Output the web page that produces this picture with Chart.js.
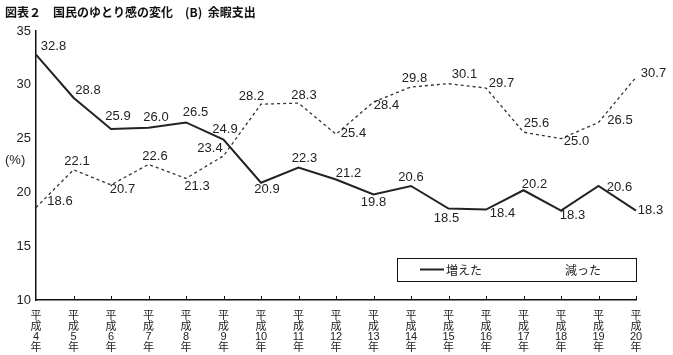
<!DOCTYPE html>
<html><head><meta charset="utf-8">
<script src="https://cdn.jsdelivr.net/npm/chart.js@4.4.0/dist/chart.umd.min.js"></script>
<style>html,body{margin:0;padding:0;background:#fff}#w{width:673px;height:355px}</style>
</head><body><div id="w"><canvas id="c" width="673" height="355"></canvas></div>
<script>
const categories = ['平成4年','平成5年','平成6年','平成7年','平成8年','平成9年','平成10年','平成11年','平成12年','平成13年','平成14年','平成15年','平成16年','平成17年','平成18年','平成19年','平成20年'];
const increased = [32.8,28.8,25.9,26.0,26.5,24.9,20.9,22.3,21.2,19.8,20.6,18.5,18.4,20.2,18.3,20.6,18.3];
const decreased = [18.6,22.1,20.7,22.6,21.3,23.4,28.2,28.3,25.4,28.4,29.8,30.1,29.7,25.6,25.0,26.5,30.7];
const yTicks = [10,15,20,25,30,35];
const seriesNames = ['増えた','減った'];
const titleText = '図表２　国民のゆとり感の変化　(B)  余暇支出';

// label offsets (layout only): [dx, dy] of label centre relative to point
const offInc = [[17.5,-8],[14.5,-7],[7,-12],[7.5,-10],[9.5,-10],[1.5,-10],[6,7],[6,-9],[12.5,-6],[0,8],[0,-9],[-2,10],[16.5,4],[11,-6],[11.5,5],[21,1],[14.5,0]];
const offDec = [[24,-6],[3.5,-8],[11.5,5],[6.5,-8],[11,8],[-13.5,-7],[-9.5,-8],[5.5,-8],[17.5,-1],[13,3],[3.5,-9],[16,-9],[15.5,-5],[13,-9],[15.5,3],[21.5,-2],[17.5,-4]];

const FONT = '"Liberation Sans", Arial, "Noto Sans CJK JP", sans-serif';
const CJK = '"Noto Sans CJK JP", sans-serif';

const decor = {
  id: 'decor',
  afterDatasetsDraw(chart) {
    const ctx = chart.ctx;
    const xs = chart.scales.x, ys = chart.scales.y;
    ctx.save();
    ctx.strokeStyle = '#111'; ctx.lineWidth = 1;
    for (let i = 1; i < categories.length; i++) {
      const x = Math.round(xs.getPixelForValue(i)) + 0.5;
      ctx.beginPath(); ctx.moveTo(x, ys.bottom); ctx.lineTo(x, ys.bottom - 4); ctx.stroke();
    }
    ctx.fillStyle = '#222';
    ctx.font = '13px ' + FONT;
    ctx.textAlign = 'center'; ctx.textBaseline = 'middle';
    const drawLabels = (arr, off) => {
      arr.forEach((v, i) => {
        const x = xs.getPixelForValue(i), y = ys.getPixelForValue(v);
        ctx.fillText(v.toFixed(1), x + off[i][0], y + off[i][1]);
      });
    };
    drawLabels(increased, offInc);
    drawLabels(decreased, offDec);
    ctx.font = '13px ' + FONT;
    ctx.textAlign = 'left';
    ctx.fillText('(%)', 5, 160);
    ctx.font = 'bold 12px ' + CJK;
    ctx.fillStyle = '#111';
    ctx.fillText(titleText, 5, 12);
    ctx.strokeStyle = '#111'; ctx.lineWidth = 1;
    ctx.strokeRect(397.5, 258.5, 239, 23);
    ctx.lineWidth = 2; ctx.strokeStyle = '#222';
    ctx.beginPath(); ctx.moveTo(420, 269.5); ctx.lineTo(444, 269.5); ctx.stroke();
    ctx.fillStyle = '#222';
    ctx.font = '12px ' + CJK;
    ctx.fillText(seriesNames[0], 446, 270);
    ctx.fillText(seriesNames[1], 565, 270);
    ctx.restore();
  }
};

new Chart(document.getElementById('c'), {
  type: 'line',
  data: {
    labels: categories,
    datasets: [
      { label: seriesNames[0], data: increased, borderColor: '#222', borderWidth: 2, pointRadius: 0, tension: 0, fill: false },
      { label: seriesNames[1], data: decreased, borderColor: '#333', borderWidth: 1.3, borderDash: [3, 3], pointRadius: 0, tension: 0, fill: false }
    ]
  },
  options: {
    responsive: false,
    animation: false,
    layout: { padding: { top: 31, right: 37, left: 0, bottom: 0 } },
    plugins: { legend: { display: false }, title: { display: false }, tooltip: { enabled: false } },
    scales: {
      x: {
        offset: false,
        grid: { display: false, drawTicks: false },
        border: { display: true, color: '#111', width: 1.5 },
        ticks: {
          autoSkip: false, maxRotation: 0, minRotation: 0, padding: 11, color: '#222',
          font: { size: 11, family: FONT, lineHeight: '10.5px' },
          callback: function(v, i) { const s = categories[i]; return ['平', '成', s.slice(2, -1), '年']; }
        },
        afterFit(scale) { scale.height = 55; }
      },
      y: {
        min: 10, max: 35,
        grid: { display: false, drawTicks: false },
        border: { display: true, color: '#111', width: 1.5 },
        afterBuildTicks(scale) { scale.ticks = yTicks.map(v => ({ value: v })); },
        ticks: { padding: 5, color: '#222', font: { size: 13, family: FONT } },
        afterFit(scale) { scale.width = 36; }
      }
    }
  },
  plugins: [decor]
});
</script></body></html>
